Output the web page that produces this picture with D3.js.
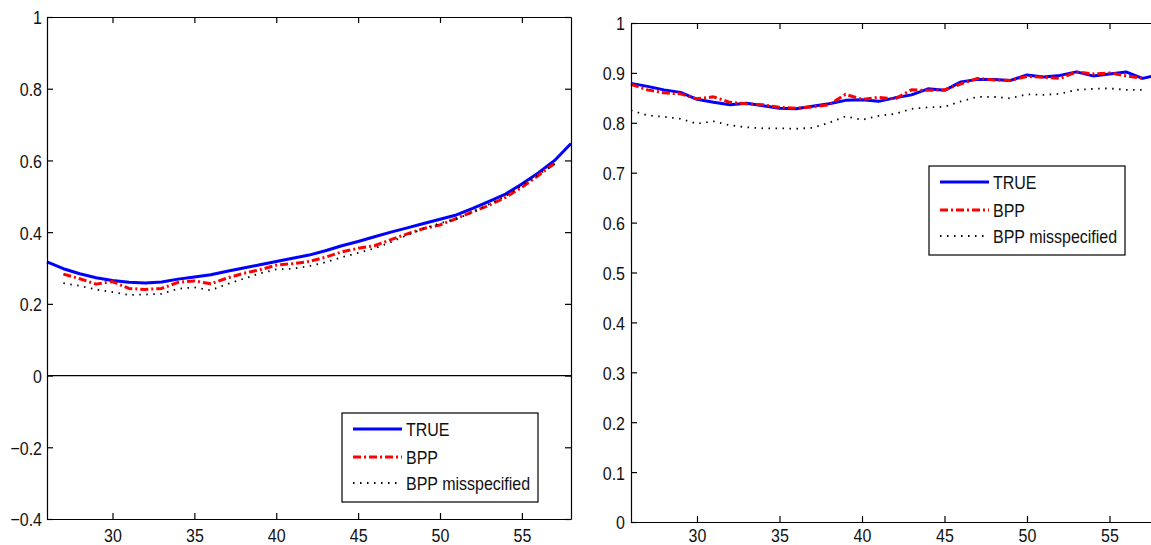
<!DOCTYPE html>
<html>
<head>
<meta charset="utf-8">
<title>TRUE vs BPP</title>
<style>
  body { margin: 0; background: #fff; }
  text { font-family: "Liberation Sans", Arial, sans-serif; font-size: 16px; fill: #111; }
</style>
</head>
<body>
<svg width="1151" height="545"></svg>
<script src="https://cdn.jsdelivr.net/npm/d3@7/dist/d3.min.js"></script>
<script>
// ages on the x axis
var ages = [26,27,28,29,30,31,32,33,34,35,36,37,38,39,40,41,42,43,44,45,46,47,48,49,50,51,52,53,54,55,56,57,58];
var xTicks = [30,35,40,45,50,55];

// left panel
var leftTicks = [-0.4,-0.2,0,0.2,0.4,0.6,0.8,1];
var leftTrue = [0.317,0.298,0.284,0.273,0.265,0.260,0.258,0.261,0.269,0.275,0.281,0.291,0.300,0.309,0.318,0.327,0.336,0.348,0.362,0.374,0.387,0.400,0.412,0.424,0.436,0.448,0.466,0.486,0.506,0.534,0.565,0.600,0.647];
var leftBpp = [null,0.283,0.270,0.255,0.262,0.243,0.240,0.243,0.260,0.264,0.256,0.272,0.285,0.295,0.308,0.312,0.318,0.330,0.345,0.355,0.362,0.379,0.395,0.410,0.420,0.438,0.457,0.475,0.497,0.525,0.558,0.592,null];
var leftMis = [null,0.258,0.250,0.240,0.233,0.225,0.226,0.228,0.242,0.246,0.238,0.255,0.270,0.285,0.296,0.298,0.305,0.316,0.330,0.342,0.355,0.372,0.392,0.410,0.425,0.437,0.455,0.478,0.500,0.530,0.560,0.590,null];

// right panel
var rightTicks = [0,0.1,0.2,0.3,0.4,0.5,0.6,0.7,0.8,0.9,1];
var rightTrue = [0.879,0.873,0.866,0.861,0.847,0.841,0.836,0.839,0.834,0.829,0.828,0.833,0.838,0.845,0.846,0.843,0.850,0.856,0.868,0.865,0.882,0.887,0.887,0.885,0.896,0.892,0.895,0.902,0.894,0.898,0.902,0.889,0.896];
var rightBpp = [0.877,0.866,0.860,0.858,0.848,0.852,0.841,0.838,0.836,0.831,0.829,0.832,0.836,0.857,0.847,0.851,0.848,0.866,0.865,0.866,0.878,0.889,0.886,0.885,0.893,0.891,0.889,0.902,0.898,0.900,0.894,0.889,null];
var rightMis = [0.825,0.815,0.812,0.808,0.798,0.803,0.795,0.791,0.789,0.789,0.788,0.790,0.800,0.813,0.806,0.814,0.818,0.828,0.831,0.832,0.843,0.852,0.852,0.849,0.857,0.856,0.858,0.866,0.868,0.869,0.866,0.866,null];

var legendNames = ["TRUE", "BPP", "BPP misspecified"];
var styles = [
  { color: "#0000ff", width: 3, dash: null },
  { color: "#ff0000", width: 3, dash: "8,3,2,3" },
  { color: "#000000", width: 1.8, dash: "1.5,5.5" }
];

var svg = d3.select("svg");

function drawPanel(p) {
  var x = d3.scaleLinear().domain([26, 58]).range([p.left, p.right]);
  var y = d3.scaleLinear().domain([p.ticks[0], p.ticks[p.ticks.length - 1]]).range([p.bottom, p.top]);
  var g = svg.append("g");
  var fmt = d3.format("~g");

  // zero line (left panel only)
  if (p.zero) {
    g.append("line")
      .attr("x1", p.left).attr("x2", p.right)
      .attr("y1", y(0)).attr("y2", y(0))
      .attr("stroke", "#000").attr("stroke-width", 1.2);
  }

  // series
  var series = [p.tru, p.bpp, p.mis];
  series.forEach(function(vals, i) {
    var line = d3.line()
      .defined(function(d) { return d[1] != null; })
      .x(function(d) { return x(d[0]); })
      .y(function(d) { return y(d[1]); });
    g.append("path")
      .datum(ages.map(function(a, j) { return [a, vals[j]]; }))
      .attr("fill", "none")
      .attr("stroke", styles[i].color)
      .attr("stroke-width", styles[i].width)
      .attr("stroke-dasharray", styles[i].dash)
      .attr("stroke-linejoin", "round")
      .attr("d", line);
  });

  // box axes, ticks pointing inward
  var bottom = g.append("g").attr("transform", "translate(0," + p.bottom + ")")
    .call(d3.axisBottom(x).tickValues(xTicks).tickSizeInner(-6).tickSizeOuter(0).tickPadding(0));
  bottom.selectAll("text")
    .attr("y", p.xLabelY).attr("dy", "0.71em")
    .attr("transform", "scale(1,1.2)");

  g.append("g").attr("transform", "translate(0," + p.top + ")")
    .call(d3.axisTop(x).tickValues(xTicks).tickSizeInner(-6).tickSizeOuter(0).tickFormat(""));

  var left = g.append("g").attr("transform", "translate(" + p.left + ",0)")
    .call(d3.axisLeft(y).tickValues(p.ticks).tickSizeInner(-6).tickSizeOuter(0).tickPadding(p.yPad).tickFormat(fmt));
  left.selectAll("text")
    .attr("dy", "0.36em")
    .attr("transform", "scale(1,1.2)");

  g.append("g").attr("transform", "translate(" + p.right + ",0)")
    .call(d3.axisRight(y).tickValues(p.ticks).tickSizeInner(-6).tickSizeOuter(0).tickFormat(""));

  g.selectAll(".domain").attr("stroke", "#000").attr("stroke-width", 1.2);
  g.selectAll(".tick line").attr("stroke", "#000").attr("stroke-width", 1.2);

  // legend
  var lg = g.append("g").attr("transform", "translate(" + p.legX + "," + p.legY + ")");
  lg.append("rect")
    .attr("width", 196).attr("height", 89)
    .attr("fill", "#fff").attr("stroke", "#000").attr("stroke-width", 1.2);
  var rowY = [16, 44, 70];
  legendNames.forEach(function(name, i) {
    lg.append("line")
      .attr("x1", 11).attr("x2", 60)
      .attr("y1", rowY[i]).attr("y2", rowY[i])
      .attr("stroke", styles[i].color)
      .attr("stroke-width", styles[i].width)
      .attr("stroke-dasharray", styles[i].dash);
    lg.append("text")
      .attr("transform", "translate(64," + (rowY[i] + 7) + ") scale(1,1.2)")
      .text(name);
  });
}

drawPanel({
  left: 47, right: 571, top: 17, bottom: 519,
  ticks: leftTicks, zero: true,
  tru: leftTrue, bpp: leftBpp, mis: leftMis,
  xLabelY: 7.5, yPad: 5,
  legX: 342, legY: 413
});

drawPanel({
  left: 631, right: 1159, top: 23, bottom: 522,
  ticks: rightTicks, zero: false,
  tru: rightTrue, bpp: rightBpp, mis: rightMis,
  xLabelY: 5, yPad: 6,
  legX: 929, legY: 166
});
</script>
</body>
</html>
